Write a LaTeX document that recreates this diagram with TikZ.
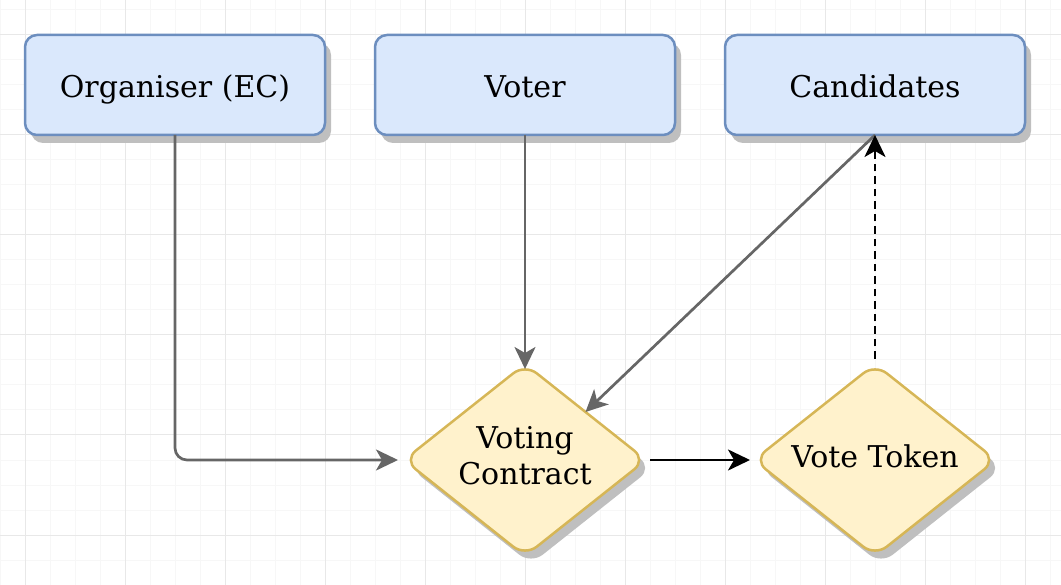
\documentclass[tikz,border=0pt]{standalone}
\usepackage{fontspec}
\setmainfont{DejaVu Serif}
\usepackage{tikz}
\usetikzlibrary{math}
\usetikzlibrary{arrows.meta}
\usetikzlibrary{shapes.geometric}
\usetikzlibrary{shadows}
\usetikzlibrary{positioning}
\definecolor{cblue}{HTML}{DAE8FC}
\definecolor{cblueline}{HTML}{6C8EBF}
\definecolor{cyellow}{HTML}{FFF2CC}
\definecolor{cyellowline}{HTML}{D6B656}
\definecolor{cedge}{HTML}{666666}
\definecolor{cshadow}{HTML}{BFBFBF}
\definecolor{cgridminor}{HTML}{F7F7F7}
\definecolor{cgridmajor}{HTML}{E8E8E8}

\begin{document}
\begin{tikzpicture}[x=1pt, y=-1pt,
  >={Stealth[length=22pt, width=21pt, inset=6pt]},
  boxshadow/.style={drop shadow={shadow xshift=6pt, shadow yshift=-8pt, fill=cshadow, opacity=1}},
  party/.style={draw=cblueline, fill=cblue, line width=2.5pt, rounded corners=12pt,
    minimum width=300pt, minimum height=100pt, outer sep=0pt, boxshadow,
    text height=25pt, text depth=0pt, font=\fontsize{30}{36}\selectfont},
  contract/.style={diamond, draw=cyellowline, fill=cyellow, line width=2.5pt, rounded corners=15pt,
    minimum width=242pt, minimum height=192pt, inner sep=0pt, outer sep=0pt, boxshadow,
    label={[align=center, yshift=4pt, font=\fontsize{30}{36}\selectfont]center:#1}},
  link/.style={->, draw=cedge, line width=2.7pt},
  flow/.style={->, draw=black, line width=2.7pt}]
  \tikzmath{
    \W = 1061;
    \H = 585;
  }
  \useasboundingbox (0,0) rectangle (\W,\H);

  % grid
  \foreach \gx in {0,25,...,1050} {
    \draw [cgridminor, line width=1pt] (\gx,0) -- (\gx,\H);
  }
  \foreach \gy in {10,35,...,585} {
    \draw [cgridminor, line width=1pt] (0,\gy) -- (\W,\gy);
  }
  \foreach \gx in {25,125,...,1025} {
    \draw [cgridmajor, line width=1pt] (\gx,0) -- (\gx,\H);
  }
  \foreach \gy in {35,135,...,535} {
    \draw [cgridmajor, line width=1pt] (0,\gy) -- (\W,\gy);
  }

  % parties
  \node [party] (organiser) at (175,85) {Organiser (EC)};
  \node [party, right=50pt of organiser] (voter) {Voter};
  \node [party, right=50pt of voter] (candidates) {Candidates};

  % contracts
  \node [contract={Voting\\Contract}] (votingcontract) at (525,460) {};
  \node [contract={Vote Token}, right=108pt of votingcontract] (votetoken) {};

  % connectors
  \draw [link, rounded corners=12pt, shorten >=6pt] (organiser.south) |- (votingcontract.west);
  \draw [link, shorten >=-5pt] (voter.south) -- (votingcontract.north);
  \draw [link] (candidates.south) -- (votingcontract.north east);
  \draw [flow, shorten <=4pt, shorten >=4pt] (votingcontract.east) -- (votetoken.west);
  \draw [flow, dash pattern=on 7.5pt off 5pt, shorten <=5pt] (votetoken.north) -- (candidates.south);
\end{tikzpicture}
\end{document}
